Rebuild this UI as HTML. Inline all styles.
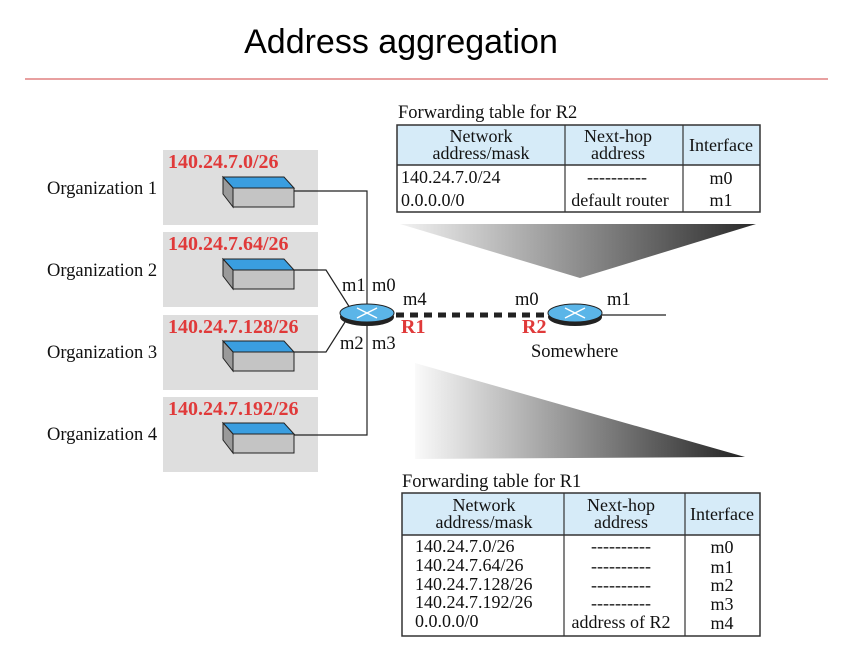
<!DOCTYPE html>
<html><head><style>
body{margin:0;background:#fff}
svg{display:block}
.s{font-family:"Liberation Serif",serif;font-size:18.5px;fill:#111}
.t{font-family:"Liberation Serif",serif;font-size:18px;fill:#111}
.r{font-family:"Liberation Serif",serif;font-size:20px;font-weight:bold;fill:#e03a3a}
</style></head><body>
<svg width="860" height="648" viewBox="0 0 860 648">
<defs>
<linearGradient id="g1" x1="0" x2="1" y1="0" y2="0"><stop offset="0" stop-color="#f2f2f2"/><stop offset="1" stop-color="#2a2a2a"/></linearGradient>
<linearGradient id="g2" x1="0" x2="1" y1="0" y2="0"><stop offset="0" stop-color="#fafafa"/><stop offset="1" stop-color="#222"/></linearGradient>
<g id="dev">
<polygon points="223,177 284,177 294,188 233,188" fill="#3a9ee0" stroke="#222" stroke-width="1"/>
<polygon points="223,177 233,188 233,207 223,194" fill="#9a9a9a" stroke="#222" stroke-width="1"/>
<rect x="233" y="188" width="61" height="19" fill="#c4c4c4" stroke="#222" stroke-width="1"/>
</g>
<g id="rt">
<ellipse cx="0" cy="4" rx="27" ry="9" fill="#222"/>
<ellipse cx="0" cy="0" rx="27" ry="9" fill="#5bb5e8" stroke="#222" stroke-width="1"/>
<path d="M-10,-5 L10,5 M-10,5 L10,-5" stroke="#fff" stroke-width="1.5"/>
</g>
</defs>
<text x="401" y="53" text-anchor="middle" font-family="Liberation Sans,sans-serif" font-size="34" fill="#000">Address aggregation</text>
<line x1="25" y1="79" x2="828" y2="79" stroke="#d04040" stroke-width="1"/>

<rect x="163" y="150" width="155" height="75" fill="#dedede"/>
<rect x="163" y="232" width="155" height="75" fill="#dedede"/>
<rect x="163" y="315" width="155" height="75" fill="#dedede"/>
<rect x="163" y="397" width="155" height="75" fill="#dedede"/>
<text class="r" x="168" y="168">140.24.7.0/26</text>
<text class="r" x="168" y="250">140.24.7.64/26</text>
<text class="r" x="168" y="333">140.24.7.128/26</text>
<text class="r" x="168" y="415">140.24.7.192/26</text>
<text class="s" x="47" y="194">Organization 1</text>
<text class="s" x="47" y="276">Organization 2</text>
<text class="s" x="47" y="358">Organization 3</text>
<text class="s" x="47" y="440">Organization 4</text>
<use href="#dev"/>
<use href="#dev" y="82"/>
<use href="#dev" y="164"/>
<use href="#dev" y="246"/>
<g fill="none" stroke="#222" stroke-width="1.2">
<polyline points="294,191 367,191 367,435 294,435"/>
<polyline points="294,270 326,270 350,308"/>
<polyline points="294,352 326,352 345,322"/>
</g>
<line x1="396" y1="315" x2="548" y2="315" stroke="#222" stroke-width="5" stroke-dasharray="8,6"/>
<line x1="600" y1="315" x2="666" y2="315" stroke="#222" stroke-width="1.2"/>
<use href="#rt" x="367" y="313"/>
<use href="#rt" x="575" y="313"/>
<text class="s" x="342" y="291">m1</text><text class="s" x="372" y="291">m0</text>
<text class="s" x="340" y="349">m2</text><text class="s" x="372" y="349">m3</text>
<text class="s" x="403" y="305">m4</text>
<text class="r" x="401" y="333">R1</text>
<text class="s" x="515" y="305">m0</text>
<text class="r" x="522" y="333">R2</text>
<text class="s" x="607" y="305">m1</text>
<text class="s" x="531" y="357">Somewhere</text>

<polygon points="400,224 756,224 580,278" fill="url(#g1)"/>
<polygon points="415,363 745,457 415,459" fill="url(#g2)"/>

<text class="s" x="398" y="118">Forwarding table for R2</text>
<rect x="397" y="125" width="363" height="40" fill="#d6ebf8"/>
<rect x="397" y="125" width="363" height="87" fill="none" stroke="#333" stroke-width="1.5"/>
<line x1="397" y1="165" x2="760" y2="165" stroke="#333" stroke-width="1.5"/>
<line x1="565" y1="125" x2="565" y2="212" stroke="#333" stroke-width="1.2"/>
<line x1="683" y1="125" x2="683" y2="212" stroke="#333" stroke-width="1.2"/>
<g class="t" text-anchor="middle">
<text x="481" y="142">Network</text><text x="481" y="159">address/mask</text>
<text x="618" y="142">Next-hop</text><text x="618" y="159">address</text>
<text x="721" y="151">Interface</text>
<text x="617" y="183">----------</text><text x="620" y="206">default router</text>
<text x="721" y="184">m0</text><text x="721" y="206">m1</text>
</g>
<text class="t" x="401" y="183">140.24.7.0/24</text>
<text class="t" x="401" y="206">0.0.0.0/0</text>

<text class="s" x="402" y="487">Forwarding table for R1</text>
<rect x="402" y="493" width="358" height="42" fill="#d6ebf8"/>
<rect x="402" y="493" width="358" height="143" fill="none" stroke="#333" stroke-width="1.5"/>
<line x1="402" y1="535" x2="760" y2="535" stroke="#333" stroke-width="1.5"/>
<line x1="564" y1="493" x2="564" y2="636" stroke="#333" stroke-width="1.2"/>
<line x1="685" y1="493" x2="685" y2="636" stroke="#333" stroke-width="1.2"/>
<g class="t" text-anchor="middle">
<text x="484" y="511">Network</text><text x="484" y="528">address/mask</text>
<text x="621" y="511">Next-hop</text><text x="621" y="528">address</text>
<text x="722" y="520">Interface</text>
<text x="621" y="552">----------</text><text x="621" y="572">----------</text>
<text x="621" y="591">----------</text><text x="621" y="609">----------</text>
<text x="621" y="628">address of R2</text>
<text x="722" y="553">m0</text><text x="722" y="573">m1</text><text x="722" y="591">m2</text>
<text x="722" y="610">m3</text><text x="722" y="629">m4</text>
</g>
<g class="t">
<text x="415" y="552">140.24.7.0/26</text><text x="415" y="571">140.24.7.64/26</text>
<text x="415" y="590">140.24.7.128/26</text><text x="415" y="608">140.24.7.192/26</text>
<text x="415" y="627">0.0.0.0/0</text>
</g>
</svg>
</body></html>
